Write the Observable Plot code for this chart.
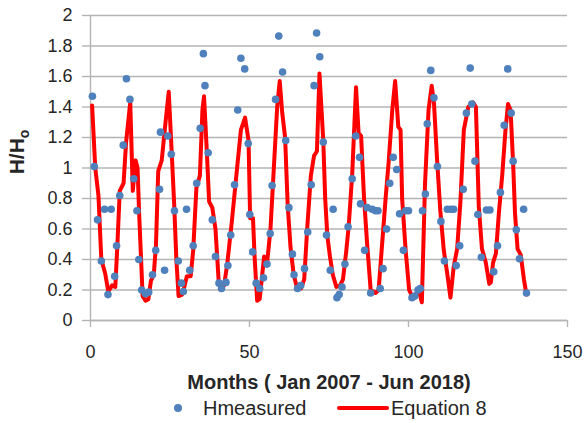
<!DOCTYPE html>
<html>
<head>
<meta charset="utf-8">
<script src="https://cdn.jsdelivr.net/npm/d3@7"></script>
<script src="https://cdn.jsdelivr.net/npm/@observablehq/plot@0.6"></script>
<style>
  html, body { margin: 0; padding: 0; background: #ffffff; }
  #wrap { width: 585px; height: 423px; position: relative; font-family: "Liberation Sans", Arial, sans-serif; }
  #legend { position: absolute; left: 0; top: 395px; width: 585px; height: 28px; font-size: 20px; color: #262626; }
  #legend .item { position: absolute; top: 1px; line-height: 24px; white-space: nowrap; }
</style>
</head>
<body>
<div id="wrap">
  <div id="chart"></div>
  <div id="legend"></div>
</div>
<script>
// ---- data ----
const xTicks = [0, 50, 100, 150];
const yTicks = [0, 0.2, 0.4, 0.6, 0.8, 1, 1.2, 1.4, 1.6, 1.8, 2];
const xTitle = "Months ( Jan 2007 - Jun 2018)";
const seriesNames = ["Hmeasured", "Equation 8"];

// Hmeasured (blue points)
const measMonth = [0.6,1.2,2.2,3.4,4.4,5.5,6.5,7.6,8.2,9.2,10.3,11.3,12.4,13.6,14.6,15.2,16.1,17.3,18.3,19.5,
  20.5,21.7,22.0,23.3,24.3,25.4,26.4,27.6,28.6,29.2,30.2,31.2,32.3,33.4,34.5,35.5,36.0,37.0,38.3,39.3,
  40.4,41.2,42.6,43.2,44.1,45.3,46.3,47.3,48.5,49.6,50.1,51.0,52.1,53.2,54.4,55.5,56.5,57.1,58.2,59.2,
  60.4,61.4,62.4,63.5,64.0,65.1,66.1,67.3,68.3,69.4,70.3,71.1,72.1,73.2,74.2,75.4,76.3,77.5,78.2,79.1,
  80.0,81.0,82.3,83.4,84.6,84.9,86.2,87.0,88.1,88.6,89.6,90.4,91.1,92.0,93.1,94.1,95.2,96.3,97.2,98.4,
  99.1,100.0,101.1,102.0,103.0,103.7,104.4,105.3,105.9,107.0,108.0,109.1,110.2,111.3,112.2,113.3,114.2,115.0,116.1,117.2,
  118.2,119.4,119.9,120.9,121.8,122.9,124.5,125.6,126.8,128.0,128.9,130.1,131.2,132.3,132.9,133.9,134.9,136.2,137.1];
const measH = [1.47,1.01,0.66,0.39,0.73,0.17,0.73,0.29,0.49,0.82,1.15,1.585,1.45,0.93,0.72,0.40,0.20,0.175,0.186,0.30,
  0.46,0.86,1.235,0.33,1.21,1.09,0.72,0.39,0.245,0.19,0.73,0.33,0.49,0.90,1.26,1.75,1.54,1.10,0.66,0.42,
  0.245,0.21,0.25,0.36,0.56,0.89,1.38,1.72,1.65,1.16,0.695,0.45,0.245,0.21,0.28,0.37,0.57,0.885,1.45,1.865,
  1.63,1.18,0.74,0.435,0.30,0.21,0.23,0.34,0.58,0.89,1.54,1.885,1.73,1.17,0.56,0.33,0.73,0.15,0.17,0.22,
  0.37,0.615,0.93,1.21,1.07,0.765,0.46,0.74,0.18,0.73,0.72,0.72,0.21,0.34,0.60,0.90,1.07,0.99,0.70,0.46,
  0.72,0.72,0.15,0.16,0.20,0.21,0.72,0.83,1.29,1.64,1.46,1.01,0.65,0.39,0.73,0.73,0.73,0.36,0.49,0.86,
  1.36,1.655,1.42,1.045,0.695,0.415,0.725,0.725,0.32,0.49,0.84,1.28,1.65,1.36,1.045,0.595,0.405,0.73,0.18];

// Equation 8 (red line)
const eqMonth = [0.5,1.5,2.5,3.4,4.6,5.6,6.8,7.8,8.4,9.2,10.4,11.2,12.5,13.3,14.2,14.8,15.3,16.4,17.3,18.2,
  19.0,19.9,20.6,21.3,22.4,23.6,24.6,25.5,26.3,27.0,27.7,28.8,29.5,30.3,31.5,32.3,33.3,34.4,35.2,35.7,
  36.6,37.3,38.3,39.3,40.3,41.0,42.0,43.0,44.5,46.1,47.3,48.6,49.7,50.2,51.1,51.6,52.4,53.2,54.0,54.6,
  55.5,56.6,57.6,58.7,59.5,60.3,61.2,62.0,62.9,63.9,65.0,66.2,67.2,68.2,69.3,70.3,71.2,72.0,73.2,73.8,
  74.5,75.3,76.2,77.3,78.5,79.4,80.4,81.2,82.3,83.5,84.3,85.1,86.0,87.0,88.1,89.6,90.6,91.7,92.8,93.8,
  94.9,95.8,96.8,97.5,98.0,99.1,100.2,101.1,102.2,103.2,104.2,105.2,106.3,107.3,108.0,109.0,110.0,111.1,112.1,113.2,
  114.2,115.3,116.3,117.4,118.8,120.3,121.2,122.1,123.1,124.3,125.4,125.9,126.6,127.5,128.4,129.5,130.5,131.3,132.1,132.9,
  133.5,134.3,135.3,136.3,137.1];
const eqH = [1.41,1.00,0.82,0.40,0.31,0.19,0.23,0.22,0.47,0.85,0.90,1.17,1.43,0.85,1.05,1.00,0.70,0.16,0.13,0.14,
  0.26,0.30,0.50,0.98,1.05,1.30,1.50,1.12,0.77,0.40,0.16,0.17,0.22,0.29,0.29,0.46,0.87,0.95,1.38,1.47,
  1.10,0.78,0.74,0.60,0.26,0.20,0.23,0.37,0.66,1.00,1.25,1.33,1.18,0.67,0.67,0.42,0.13,0.14,0.30,0.42,
  0.37,0.60,0.98,1.40,1.57,1.36,1.20,0.76,0.48,0.30,0.21,0.21,0.27,0.62,0.95,1.08,1.11,1.62,1.18,0.80,
  0.55,0.42,0.30,0.22,0.23,0.27,0.45,0.62,0.96,1.53,1.23,1.21,0.81,0.50,0.20,0.18,0.20,0.50,0.80,1.05,
  1.38,1.57,1.27,1.25,0.80,0.46,0.20,0.16,0.17,0.20,0.12,0.90,1.38,1.54,1.43,1.05,0.72,0.46,0.32,0.15,
  0.35,0.47,0.77,1.25,1.40,1.43,1.40,0.75,0.47,0.38,0.24,0.25,0.38,0.44,0.70,0.96,1.25,1.42,1.38,1.03,
  0.70,0.47,0.43,0.27,0.17];

const meas = measMonth.map((m, i) => ({month: m, h: measH[i]}));
const eq = eqMonth.map((m, i) => ({month: m, h: eqH[i]}));

const BLUE = "#4f81bd";
const RED = "#ff0000";
const GRID = "#b4b4b4";
const TXT = "#262626";
const FONT = '"Liberation Sans", Arial, sans-serif';

const chart = Plot.plot({
  width: 585,
  height: 395,
  marginTop: 15,
  marginLeft: 90,
  marginRight: 18,
  marginBottom: 75,
  style: {fontFamily: FONT, fontSize: "18px", color: TXT, background: "#ffffff"},
  x: {domain: [0, 150]},
  y: {domain: [0, 2]},
  marks: [
    Plot.gridY(yTicks, {stroke: GRID, strokeOpacity: 1, strokeWidth: 1.4}),
    Plot.axisY(yTicks, {tickSize: 8, tickPadding: 10, stroke: GRID, strokeOpacity: 1, strokeWidth: 1.4,
      tickFormat: d => String(+d.toFixed(1)), fontSize: 18, fill: TXT, label: null}),
    Plot.axisX(xTicks, {tickSize: 7, tickPadding: 18, stroke: GRID, strokeOpacity: 1, strokeWidth: 1.4,
      tickFormat: d => String(d), fontSize: 18, fill: TXT, label: null}),
    Plot.ruleX([0], {stroke: GRID, strokeWidth: 1.4}),
    Plot.ruleY([0], {stroke: GRID, strokeWidth: 1.4}),
    Plot.line(eq, {x: "month", y: "h", stroke: RED, strokeWidth: 4, strokeLinejoin: "round", strokeLinecap: "round"}),
    Plot.dot(meas, {x: "month", y: "h", r: 3.8, fill: BLUE, stroke: "none"}),
    Plot.text([xTitle], {frameAnchor: "bottom", dy: 68, text: d => d, fontSize: 20, fontWeight: "bold", fill: TXT})
  ]
});
document.getElementById("chart").appendChild(chart);

// y-axis title with subscript
const svg = d3.select(chart);
const yt = svg.append("text")
  .attr("transform", "translate(24,152) rotate(-90)")
  .attr("text-anchor", "middle")
  .attr("font-family", FONT)
  .attr("font-weight", "bold")
  .attr("font-size", 21)
  .attr("fill", TXT);
yt.append("tspan").text("H/H");
yt.append("tspan").attr("font-size", 14).attr("dy", 5).text("o");

// legend
const lg = d3.select("#legend");
lg.append("svg").attr("width", 12).attr("height", 12).style("position", "absolute").style("left", "172px").style("top", "7px")
  .append("circle").attr("cx", 6).attr("cy", 6).attr("r", 4).attr("fill", BLUE);
lg.append("div").attr("class", "item").style("left", "203px").text(seriesNames[0]);
lg.append("svg").attr("width", 52).attr("height", 8).style("position", "absolute").style("left", "337px").style("top", "9px")
  .append("line").attr("x1", 2).attr("x2", 50).attr("y1", 4).attr("y2", 4).attr("stroke", RED).attr("stroke-width", 4).attr("stroke-linecap", "round");
lg.append("div").attr("class", "item").style("left", "391px").text(seriesNames[1]);
</script>
</body>
</html>
